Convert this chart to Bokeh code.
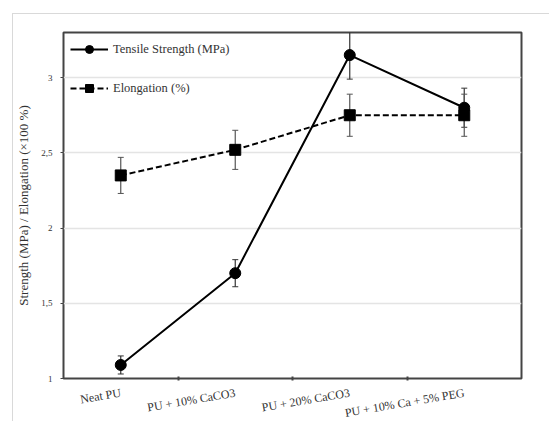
from bokeh.plotting import figure
from bokeh.models import ColumnDataSource, Whisker, FixedTicker, Legend, LegendItem, Range1d
from bokeh.embed import file_html
from bokeh.resources import INLINE

categories = ["Neat PU", "PU + 10% CaCO3", "PU + 20% CaCO3", "PU + 10% Ca + 5% PEG"]
positions = [1, 2, 3, 4]
tensile = [1.09, 1.70, 3.15, 2.80]
tensile_err = [0.06, 0.09, 0.16, 0.13]
elongation = [2.35, 2.52, 2.75, 2.75]
elongation_err = [0.12, 0.13, 0.14, 0.14]
y_ticks = [1, 1.5, 2, 2.5, 3]
y_tick_labels = ["1", "1,5", "2", "2,5", "3"]

FONT = "Liberation Serif"

src_t = ColumnDataSource(dict(
    x=positions, y=tensile,
    lo=[v - e for v, e in zip(tensile, tensile_err)],
    hi=[v + e for v, e in zip(tensile, tensile_err)]))
src_e = ColumnDataSource(dict(
    x=positions, y=elongation,
    lo=[v - e for v, e in zip(elongation, elongation_err)],
    hi=[v + e for v, e in zip(elongation, elongation_err)]))

p = figure(frame_width=458, frame_height=346, output_backend="svg", toolbar_location=None,
           x_range=Range1d(0.5, 4.5), y_range=Range1d(1, 3.3),
           min_border_left=48, min_border_top=18, min_border_right=28, min_border_bottom=42,
           margin=(13, 0, 0, 12),
           styles={"border-left": "1px solid #d9d9d9", "border-top": "1px solid #d9d9d9"})

p.outline_line_color = "#444444"
p.outline_line_width = 2
p.xgrid.visible = False
p.ygrid.grid_line_color = "#e4e4e4"
p.ygrid.grid_line_width = 1.5

# axes
p.xaxis.ticker = FixedTicker(ticks=positions, minor_ticks=[1.5, 2.5, 3.5])
p.xaxis.major_label_overrides = {k: v for k, v in zip(positions, categories)}
p.xaxis.major_tick_line_color = None
p.xaxis.minor_tick_in = 2
p.xaxis.minor_tick_out = 2
p.xaxis.minor_tick_line_color = "#444444"
p.xaxis.minor_tick_line_width = 2
p.xaxis.axis_line_color = None
p.xaxis.major_label_orientation = 0.17
p.xaxis.major_label_standoff = 8
p.xaxis.major_label_text_font = FONT
p.xaxis.major_label_text_font_size = "12px"
p.xaxis.major_label_text_color = "#333333"

p.yaxis.ticker = FixedTicker(ticks=y_ticks, minor_ticks=[])
p.yaxis.major_label_overrides = {k: v for k, v in zip(y_ticks, y_tick_labels)}
p.yaxis.axis_line_color = None
p.yaxis.major_tick_out = 3
p.yaxis.major_tick_in = 0
p.yaxis.major_tick_line_color = "#444444"
p.yaxis.major_label_standoff = 8
p.yaxis.major_label_text_font = FONT
p.yaxis.major_label_text_font_size = "9px"
p.yaxis.major_label_text_color = "#333333"
p.yaxis.axis_label = "Strength (MPa) / Elongation (\u00d7100 %)"
p.yaxis.axis_label_text_font = FONT
p.yaxis.axis_label_text_font_style = "normal"
p.yaxis.axis_label_text_font_size = "13px"
p.yaxis.axis_label_text_color = "#333333"
p.yaxis.axis_label_standoff = 7

# error bars
for src, col in ((src_t, "#333333"), (src_e, "#555555")):
    w = Whisker(source=src, base="x", lower="lo", upper="hi", line_color=col, line_width=1.2)
    w.upper_head.size = 6
    w.lower_head.size = 6
    w.upper_head.line_color = col
    w.lower_head.line_color = col
    p.add_layout(w)

# series
lt = p.line("x", "y", source=src_t, line_color="black", line_width=2)
mt = p.scatter("x", "y", source=src_t, marker="circle", size=11, color="black")
le = p.line("x", "y", source=src_e, line_color="black", line_width=2, line_dash="6 3")
me = p.scatter("x", "y", source=src_e, marker="square", size=11, color="black")

legend = Legend(items=[LegendItem(label="Tensile Strength (MPa)", renderers=[lt, mt]),
                       LegendItem(label="Elongation (%)", renderers=[le, me])],
                location="top_left")
legend.background_fill_alpha = 0
legend.border_line_color = None
legend.glyph_width = 38
legend.glyph_height = 20
legend.label_height = 20
legend.spacing = 19
legend.padding = 0
legend.margin = 7
legend.label_standoff = 5
legend.label_text_font = FONT
legend.label_text_font_size = "12.5px"
legend.label_text_color = "#333333"
p.add_layout(legend)

open("out.html", "w").write(file_html(p, INLINE))
